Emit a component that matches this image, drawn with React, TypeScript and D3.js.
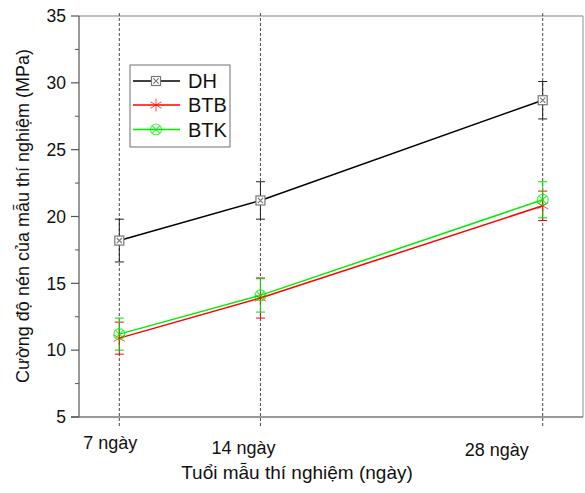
import React from 'react';
import { scaleLinear, line } from 'd3';

// data
const ages = [7, 14, 28];
const ageLabels = ['7 ngày', '14 ngày', '28 ngày'];
const dhMean = [18.2, 21.2, 28.7];
const dhErr = [1.6, 1.4, 1.4];
const btbMean = [10.9, 13.9, 20.8];
const btbErr = [1.2, 1.5, 1.1];
const btkMean = [11.2, 14.1, 21.25];
const btkErr = [1.2, 1.25, 1.35];
const yTicks = [5, 10, 15, 20, 25, 30, 35];
const yMinor = [7.5, 12.5, 17.5, 22.5, 27.5, 32.5];

const W = 585;
const H = 493;
const plot = { left: 79, right: 583, top: 16, bottom: 417 };
const FONT = '"Liberation Sans", Arial, sans-serif';
// the x labels sit oddly in the original, offsets from their tick
const labelOffset = [
  { dx: -36, y: 449 },
  { dx: -49, y: 454 },
  { dx: -78, y: 455.5 },
];

const x = scaleLinear().domain([5, 30]).range([plot.left, plot.right]);
const y = scaleLinear().domain([5, 35]).range([plot.bottom, plot.top]);

type Kind = 'square' | 'star' | 'circle';

const Marker = ({ kind, cx, cy, color }: { kind: Kind; cx: number; cy: number; color: string }) => {
  if (kind === 'square') {
    const s = 4.5;
    return (
      <g stroke="#777" strokeWidth={1.2} fill="#fff">
        <rect x={cx - s} y={cy - s} width={2 * s} height={2 * s} />
        <path d={`M${cx - 2.6},${cy - 2.6}L${cx + 2.6},${cy + 2.6}M${cx + 2.6},${cy - 2.6}L${cx - 2.6},${cy + 2.6}`} />
      </g>
    );
  }
  if (kind === 'star') {
    const r = 6.5;
    const arms = [90, 30, -30].map(a => {
      const t = (a * Math.PI) / 180;
      return `M${cx - r * Math.cos(t)},${cy - r * Math.sin(t)}L${cx + r * Math.cos(t)},${cy + r * Math.sin(t)}`;
    });
    return <path d={arms.join('')} stroke={color} strokeWidth={1} fill="none" opacity={0.7} />;
  }
  const r = 5.5;
  const k = r * 0.7;
  return (
    <g stroke={color} strokeWidth={1.1} fill="none" opacity={0.75}>
      <circle cx={cx} cy={cy} r={r} />
      <path d={`M${cx - k},${cy - k}L${cx + k},${cy + k}M${cx + k},${cy - k}L${cx - k},${cy + k}`} />
    </g>
  );
};

const series = [
  { name: 'DH', mean: dhMean, err: dhErr, color: '#000', errColor: '#222', kind: 'square' as Kind },
  { name: 'BTB', mean: btbMean, err: btbErr, color: '#ff0000', errColor: '#ff0000', kind: 'star' as Kind },
  { name: 'BTK', mean: btkMean, err: btkErr, color: '#00ee00', errColor: '#00dd00', kind: 'circle' as Kind },
];

const legendRows = [81, 105, 129.5];

export default function App() {
  const path = line<number>()
    .x((_, i) => x(ages[i]))
    .y(d => y(d));

  return (
    <svg width={W} height={H} style={{ position: 'absolute', left: 0, top: 0 }} fontFamily={FONT}>
      <rect width={W} height={H} fill="#fff" />

      {/* frame */}
      <line x1={plot.left} x2={plot.right} y1={plot.top} y2={plot.top} stroke="#aaa" strokeWidth={1.3} />
      <line x1={plot.right} x2={plot.right} y1={plot.top} y2={plot.bottom} stroke="#aaa" strokeWidth={1.3} />

      {/* dashed guide lines at each age */}
      {ages.map(a => (
        <line key={a} x1={x(a)} x2={x(a)} y1={plot.top - 3} y2={plot.bottom + 10}
          stroke="#333" strokeWidth={0.9} strokeDasharray="3,2" />
      ))}

      {/* y axis */}
      <line x1={plot.left} x2={plot.left} y1={plot.top} y2={plot.bottom} stroke="#555" strokeWidth={1.2} />
      <line x1={plot.left - 8} x2={plot.right} y1={plot.bottom} y2={plot.bottom} stroke="#777" strokeWidth={1.3} />
      {yTicks.map(t => (
        <g key={t}>
          <line x1={plot.left - 8} x2={plot.left} y1={y(t)} y2={y(t)} stroke="#555" strokeWidth={1.2} />
          <text x={66} y={y(t)} dy="0.36em" textAnchor="end" fontSize={17.5} fill="#111">{t}</text>
        </g>
      ))}
      {yMinor.map(t => (
        <line key={t} x1={plot.left - 4} x2={plot.left} y1={y(t)} y2={y(t)} stroke="#555" strokeWidth={1} />
      ))}

      {/* x labels */}
      {ages.map((a, i) => (
        <text key={a} x={x(a) + labelOffset[i].dx} y={labelOffset[i].y} fontSize={18} fill="#111">
          {ageLabels[i]}
        </text>
      ))}

      <text x={297} y={479} textAnchor="middle" fontSize={19} fill="#111">Tuổi mẫu thí nghiệm (ngày)</text>
      <text transform="translate(29,216) rotate(-90)" textAnchor="middle" fontSize={18} fill="#111">
        Cường độ nén của mẫu thí nghiệm (MPa)
      </text>

      {/* series */}
      {series.map(s => (
        <g key={s.name}>
          <path d={path(s.mean) ?? ''} fill="none" stroke={s.color} strokeWidth={1.5} />
          {s.mean.map((m, i) => {
            const cx = x(ages[i]);
            const top = y(m + s.err[i]);
            const bot = y(m - s.err[i]);
            return (
              <g key={i} stroke={s.errColor} strokeWidth={1}>
                <line x1={cx} x2={cx} y1={top} y2={bot} />
                <line x1={cx - 4.5} x2={cx + 4.5} y1={top} y2={top} />
                <line x1={cx - 4.5} x2={cx + 4.5} y1={bot} y2={bot} />
              </g>
            );
          })}
        </g>
      ))}
      {series.map(s => (
        <g key={s.name + 'm'}>
          {s.mean.map((m, i) => (
            <Marker key={i} kind={s.kind} cx={x(ages[i])} cy={y(m)} color={s.color} />
          ))}
        </g>
      ))}

      {/* legend */}
      <rect x={130} y={65} width={100} height={82} fill="#fff" stroke="#888" strokeWidth={1.2} />
      {series.map((s, i) => (
        <g key={s.name + 'l'}>
          <line x1={133} x2={180} y1={legendRows[i]} y2={legendRows[i]} stroke={s.color} strokeWidth={1.5} />
          <Marker kind={s.kind} cx={156} cy={legendRows[i]} color={s.color} />
          <text x={188} y={legendRows[i]} dy="0.36em" fontSize={20} fill="#111">{s.name}</text>
        </g>
      ))}
    </svg>
  );
}
